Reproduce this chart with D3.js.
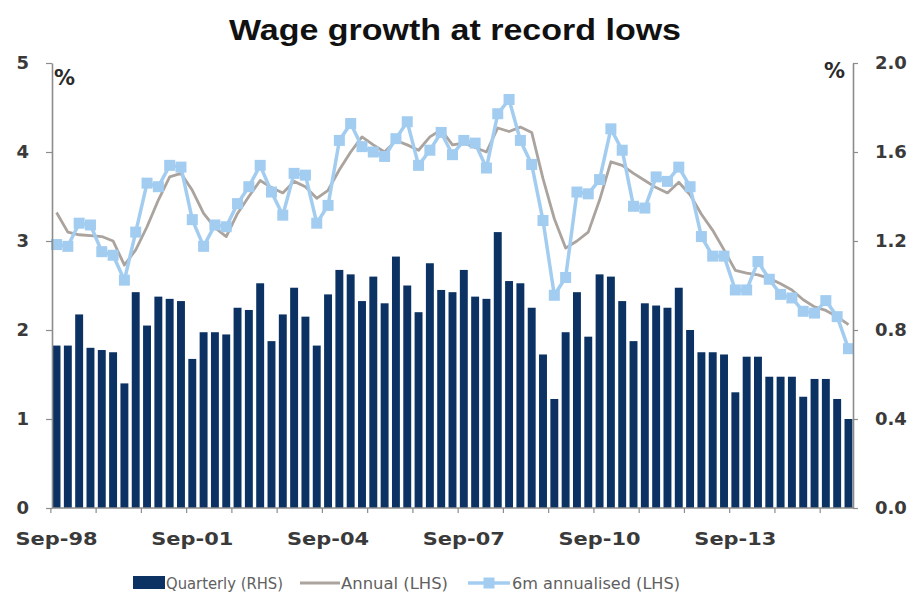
<!DOCTYPE html>
<html>
<head>
<meta charset="utf-8">
<script src="https://cdn.jsdelivr.net/npm/d3@7"></script>
<style>
  html, body { margin: 0; padding: 0; background: #ffffff; }
  svg { display: block; }
</style>
</head>
<body>
<svg id="chart" width="915" height="599"></svg>
<script>
// Quarterly periods, Sep-98 to Mar-16
const quarters = [
  "Sep-98","Dec-98","Mar-99","Jun-99","Sep-99","Dec-99","Mar-00","Jun-00",
  "Sep-00","Dec-00","Mar-01","Jun-01","Sep-01","Dec-01","Mar-02","Jun-02",
  "Sep-02","Dec-02","Mar-03","Jun-03","Sep-03","Dec-03","Mar-04","Jun-04",
  "Sep-04","Dec-04","Mar-05","Jun-05","Sep-05","Dec-05","Mar-06","Jun-06",
  "Sep-06","Dec-06","Mar-07","Jun-07","Sep-07","Dec-07","Mar-08","Jun-08",
  "Sep-08","Dec-08","Mar-09","Jun-09","Sep-09","Dec-09","Mar-10","Jun-10",
  "Sep-10","Dec-10","Mar-11","Jun-11","Sep-11","Dec-11","Mar-12","Jun-12",
  "Sep-12","Dec-12","Mar-13","Jun-13","Sep-13","Dec-13","Mar-14","Jun-14",
  "Sep-14","Dec-14","Mar-15","Jun-15","Sep-15","Dec-15","Mar-16"
];

// Quarterly wage growth, % (right-hand scale)
const quarterly = [
  0.73,0.73,0.87,0.72,0.71,0.70,0.56,0.97,
  0.82,0.95,0.94,0.93,0.67,0.79,0.79,0.78,
  0.90,0.89,1.01,0.75,0.87,0.99,0.86,0.73,
  0.96,1.07,1.05,0.93,1.04,0.92,1.13,1.00,
  0.88,1.10,0.98,0.97,1.07,0.95,0.94,1.24,
  1.02,1.01,0.90,0.69,0.49,0.79,0.97,0.77,
  1.05,1.04,0.93,0.75,0.92,0.91,0.90,0.99,
  0.80,0.70,0.70,0.69,0.52,0.68,0.68,0.59,
  0.59,0.59,0.50,0.58,0.58,0.49,0.40
];

// Annual wage growth, % (left-hand scale)
const annual = [
  3.32,3.10,3.07,3.06,3.05,3.00,2.73,2.90,
  3.16,3.46,3.72,3.76,3.57,3.31,3.15,3.05,
  3.31,3.50,3.68,3.60,3.54,3.67,3.61,3.48,
  3.57,3.80,4.00,4.17,4.08,4.00,4.13,4.08,
  4.02,4.17,4.25,4.08,4.10,4.05,4.00,4.27,
  4.23,4.28,4.22,3.70,3.25,2.92,3.00,3.10,
  3.46,3.89,3.85,3.76,3.68,3.60,3.54,3.66,
  3.52,3.30,3.12,2.90,2.67,2.64,2.62,2.58,
  2.52,2.45,2.34,2.26,2.22,2.15,2.06
];

// Six-month annualised wage growth, % (left-hand scale)
const sixMonth = [
  2.96,2.94,3.20,3.18,2.88,2.84,2.56,3.10,
  3.65,3.61,3.85,3.83,3.24,2.94,3.18,3.16,
  3.42,3.61,3.85,3.55,3.29,3.76,3.74,3.20,
  3.40,4.13,4.32,4.06,4.00,3.95,4.15,4.34,
  3.85,4.02,4.22,3.97,4.13,4.10,3.82,4.43,
  4.59,4.13,3.86,3.23,2.39,2.59,3.55,3.53,
  3.69,4.26,4.02,3.39,3.37,3.72,3.67,3.83,
  3.61,3.05,2.83,2.83,2.45,2.45,2.77,2.57,
  2.40,2.36,2.21,2.19,2.33,2.15,1.79
];

const leftTicks = [0, 1, 2, 3, 4, 5];
const rightTicks = [0.0, 0.4, 0.8, 1.2, 1.6, 2.0];
const xLabels = ["Sep-98","Sep-01","Sep-04","Sep-07","Sep-10","Sep-13"];

const titleText = "Wage growth at record lows";
const legendItems = ["Quarterly (RHS)", "Annual (LHS)", "6m annualised (LHS)"];

const colors = {
  bar: "#0b3262",
  annual: "#aaa39e",
  sixMonth: "#a3cdf0",
  axis: "#8c8c8c",
  tickText: "#3a3a3a",
  legendText: "#606060"
};

const svg = d3.select("#chart");
const plot = { left: 52, right: 853, top: 63, bottom: 508 };

const x = d3.scaleBand()
  .domain(quarters)
  .range([plot.left, plot.right])
  .paddingInner(0.3)
  .paddingOuter(0.05);

const yLeft = d3.scaleLinear().domain([0, 5]).range([plot.bottom, plot.top]);
const yRight = d3.scaleLinear().domain([0, 2]).range([plot.bottom, plot.top]);
const cx = d => x(d) + x.bandwidth() / 2;

// Title
svg.append("text")
  .attr("x", 455).attr("y", 40)
  .attr("text-anchor", "middle")
  .attr("font-family", "'Liberation Sans', Arial, sans-serif")
  .attr("font-weight", "bold")
  .attr("font-size", 29)
  .attr("textLength", 452)
  .attr("lengthAdjust", "spacingAndGlyphs")
  .attr("fill", "#111")
  .text(titleText);

// Quarterly bars
svg.append("g").selectAll("rect")
  .data(quarters)
  .join("rect")
  .attr("x", d => x(d))
  .attr("width", x.bandwidth())
  .attr("y", (d, i) => yRight(quarterly[i]))
  .attr("height", (d, i) => yRight(0) - yRight(quarterly[i]))
  .attr("fill", colors.bar);

// Annual line
const lineLeft = d3.line()
  .x((d, i) => cx(quarters[i]))
  .y(d => yLeft(d));
svg.append("path")
  .datum(annual)
  .attr("d", lineLeft)
  .attr("fill", "none")
  .attr("stroke", colors.annual)
  .attr("stroke-width", 2.8)
  .attr("stroke-linejoin", "round");

// Six-month annualised line with square markers
svg.append("path")
  .datum(sixMonth)
  .attr("d", lineLeft)
  .attr("fill", "none")
  .attr("stroke", colors.sixMonth)
  .attr("stroke-width", 3.5)
  .attr("stroke-linejoin", "round");

const m = 11;
svg.append("g").selectAll("rect")
  .data(sixMonth)
  .join("rect")
  .attr("x", (d, i) => cx(quarters[i]) - m / 2)
  .attr("y", d => yLeft(d) - m / 2)
  .attr("width", m).attr("height", m)
  .attr("fill", colors.sixMonth);

// Axes
function styleAxis(g) {
  g.select(".domain").attr("stroke", colors.axis).attr("stroke-width", 1.6);
  g.selectAll(".tick line").attr("stroke", colors.axis).attr("stroke-width", 1.2);
  g.selectAll(".tick text")
    .attr("fill", colors.tickText)
    .attr("font-family", "'DejaVu Sans', Verdana, sans-serif")
    .attr("font-weight", "bold")
    .attr("font-size", 18);
}

svg.append("g")
  .attr("transform", `translate(${plot.left},0)`)
  .call(d3.axisLeft(yLeft).tickValues(leftTicks).tickSize(6).tickSizeOuter(0)
    .tickPadding(17).tickFormat(d3.format("d")))
  .call(styleAxis);

svg.append("g")
  .attr("transform", `translate(${plot.right},0)`)
  .call(d3.axisRight(yRight).tickValues(rightTicks).tickSize(5).tickSizeOuter(0)
    .tickPadding(17).tickFormat(d3.format(".1f")))
  .call(styleAxis);

// Category axis: yearly tick marks between bars, labels every three years
const xAxisG = svg.append("g").attr("transform", `translate(0,${plot.bottom})`);
xAxisG.append("line")
  .attr("x1", plot.left).attr("x2", plot.right)
  .attr("stroke", colors.axis).attr("stroke-width", 1.6);
const yearStarts = quarters.filter((q, i) => i % 4 === 0);
xAxisG.selectAll("line.tick")
  .data(yearStarts)
  .join("line")
  .attr("class", "tick")
  .attr("x1", d => x(d) - x.step() * x.paddingInner() / 2)
  .attr("x2", d => x(d) - x.step() * x.paddingInner() / 2)
  .attr("y1", 0).attr("y2", 5)
  .attr("stroke", colors.axis).attr("stroke-width", 1.2);
xAxisG.selectAll("text")
  .data(xLabels)
  .join("text")
  .attr("x", d => cx(d))
  .attr("y", 37)
  .attr("text-anchor", "middle")
  .attr("fill", colors.tickText)
  .attr("font-family", "'DejaVu Sans', Verdana, sans-serif")
  .attr("font-weight", "bold")
  .attr("font-size", 18)
  .attr("textLength", 82)
  .attr("lengthAdjust", "spacingAndGlyphs")
  .text(d => d);

// Unit labels
const unitFont = { family: "'DejaVu Sans', Verdana, sans-serif", size: 21 };
svg.append("text")
  .attr("x", 54).attr("y", 85)
  .attr("font-family", unitFont.family).attr("font-weight", "bold")
  .attr("font-size", unitFont.size).attr("fill", "#2a2a2a")
  .text("%");
svg.append("text")
  .attr("x", 845).attr("y", 78)
  .attr("text-anchor", "end")
  .attr("font-family", unitFont.family).attr("font-weight", "bold")
  .attr("font-size", unitFont.size).attr("fill", "#2a2a2a")
  .text("%");

// Legend
const legend = svg.append("g").attr("transform", "translate(0,583)");
const legendFont = "'DejaVu Sans', Verdana, sans-serif";

legend.append("rect")
  .attr("x", 133).attr("y", -7).attr("width", 32).attr("height", 13)
  .attr("fill", colors.bar);
legend.append("text")
  .attr("x", 166).attr("y", 6)
  .attr("font-family", legendFont).attr("font-size", 16)
  .attr("fill", colors.legendText)
  .attr("textLength", 117).attr("lengthAdjust", "spacingAndGlyphs")
  .text(legendItems[0]);

legend.append("line")
  .attr("x1", 300).attr("x2", 340).attr("y1", 0).attr("y2", 0)
  .attr("stroke", colors.annual).attr("stroke-width", 2.8);
legend.append("text")
  .attr("x", 341).attr("y", 6)
  .attr("font-family", legendFont).attr("font-size", 16)
  .attr("fill", colors.legendText)
  .attr("textLength", 107).attr("lengthAdjust", "spacingAndGlyphs")
  .text(legendItems[1]);

legend.append("line")
  .attr("x1", 468).attr("x2", 510).attr("y1", 0).attr("y2", 0)
  .attr("stroke", colors.sixMonth).attr("stroke-width", 3.5);
legend.append("rect")
  .attr("x", 483.5).attr("y", -5.5).attr("width", 11).attr("height", 11)
  .attr("fill", colors.sixMonth);
legend.append("text")
  .attr("x", 512).attr("y", 6)
  .attr("font-family", legendFont).attr("font-size", 16)
  .attr("fill", colors.legendText)
  .attr("textLength", 168).attr("lengthAdjust", "spacingAndGlyphs")
  .text(legendItems[2]);
</script>
</body>
</html>
